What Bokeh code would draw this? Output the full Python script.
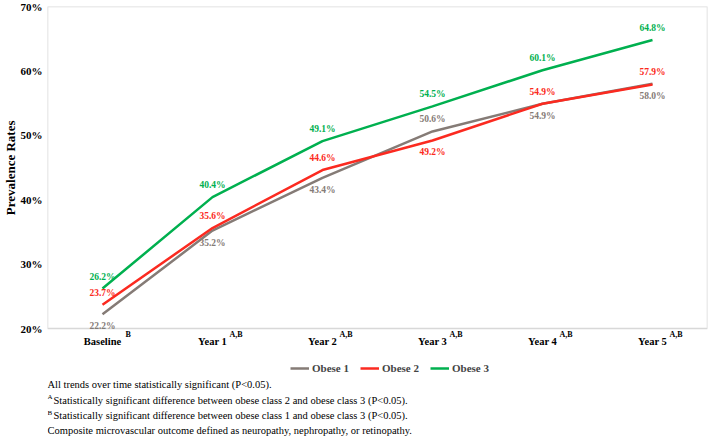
from bokeh.plotting import figure
from bokeh.models import (FactorRange, Range1d, Label, Legend, LegendItem, FixedTicker,
                          PrintfTickFormatter, BoxAnnotation, Title)
from bokeh.core.properties import value
from bokeh.embed import file_html
from bokeh.resources import INLINE

categories = ["Baseline", "Year 1", "Year 2", "Year 3", "Year 4", "Year 5"]
superscripts = ["B", "A,B", "A,B", "A,B", "A,B", "A,B"]
series_names = ["Obese 1", "Obese 2", "Obese 3"]
obese1 = [22.2, 35.2, 43.4, 50.6, 54.9, 58.0]
obese2 = [23.7, 35.6, 44.6, 49.2, 54.9, 57.9]
obese3 = [26.2, 40.4, 49.1, 54.5, 60.1, 64.8]
obese1_side = ["below", "below", "below", "above", "below", "below"]
obese2_side = ["above", "above", "above", "below", "above", "above"]
obese3_side = ["above", "above", "above", "above", "above", "above"]
y_ticks = [20, 30, 40, 50, 60, 70]
y_min, y_max = 20, 70
footnote_main = [
    "All trends over time statistically significant (P<0.05).",
    "Statistically significant difference between obese class 2 and obese class 3 (P<0.05).",
    "Statistically significant difference between obese class 1 and obese class 3 (P<0.05).",
    "Composite microvascular outcome defined as neuropathy, nephropathy, or retinopathy.",
]
footnote_marks = ["", "A", "B", ""]

colors = ["#857b76", "#fb2a20", "#00b04f"]
FONT = "Liberation Serif"

# layout (pixels in the figure)
W, H = 709, 436
TOP = 6            # top of plotting box
PLOT_BOTTOM = 328  # bottom of plotting box (20%)
LEFT = 45
px_per_unit = (PLOT_BOTTOM - TOP) / (y_max - y_min)
y_start = y_min - (H - PLOT_BOTTOM) / px_per_unit

p = figure(width=W, height=H, x_range=FactorRange(*categories, range_padding=0),
           y_range=Range1d(y_start, y_max), output_backend="svg", toolbar_location=None,
           x_axis_location=None,
           min_border_left=LEFT, min_border_right=2, min_border_top=TOP, min_border_bottom=0)
p.xgrid.visible = False
p.ygrid.visible = False
p.outline_line_color = None
p.background_fill_color = "white"
p.border_fill_color = "white"

# plotting box border
p.add_layout(BoxAnnotation(bottom=y_min, top=y_max, fill_alpha=0, line_color="#7f7f7f",
                           line_width=1.5))

ax = p.yaxis[0]
ax.axis_line_color = None
ax.major_tick_line_color = None
ax.minor_tick_line_color = None
ax.major_tick_out = 0
ax.major_tick_in = 0
ax.minor_tick_out = 0
ax.major_label_text_font = FONT
ax.major_label_text_font_style = "bold"
ax.major_label_text_font_size = "11px"
ax.major_label_text_color = "black"
ax.ticker = FixedTicker(ticks=y_ticks)
ax.formatter = PrintfTickFormatter(format="%d%%")
ax.major_label_standoff = 5

p.add_layout(Title(text="Prevalence Rates", align="right", offset=114, standoff=0,
                   text_font=FONT, text_font_style="bold", text_font_size="13px",
                   text_color="black"), "left")

renderers = []
for vals, col in zip([obese1, obese2, obese3], colors):
    r = p.line(categories, vals, line_color=col, line_width=2.5)
    renderers.append(r)
for vals, sides, col in zip([obese1, obese2, obese3], [obese1_side, obese2_side, obese3_side], colors):
    offs = [-12 if s == "above" else 12 for s in sides]
    p.text(x=categories, y=vals, text=[f"{v:.1f}%" for v in vals], y_offset=offs,
           text_align="center", text_baseline="middle", text_color=col,
           text_font=value(FONT), text_font_style="bold", text_font_size="9.5px")

# category labels and their superscripts under the plotting box
p.text(x=categories, y=[y_min] * len(categories), text=categories, y_offset=13,
       text_align="center", text_baseline="middle", text_color="black",
       text_font=value(FONT), text_font_style="bold", text_font_size="10.5px")
p.text(x=categories, y=[y_min] * len(categories), text=superscripts,
       x_offset=[3 * len(c) - 1 for c in categories], y_offset=6,
       text_align="left", text_baseline="middle", text_color="black",
       text_font=value(FONT), text_font_style="bold", text_font_size="8px")

legend = Legend(items=[LegendItem(label=n, renderers=[r]) for n, r in zip(series_names, renderers)],
                orientation="horizontal", location=(243, 62), glyph_width=19, glyph_height=10,
                label_standoff=3, spacing=11, padding=0, margin=0, border_line_color=None,
                background_fill_alpha=0, label_text_font=FONT, label_text_font_style="bold",
                label_text_font_size="11px", label_height=10)
p.add_layout(legend, "center")

foot_y = [52, 36.5, 21, 6]
for txt, mark, ys in zip(footnote_main, footnote_marks, foot_y):
    xs = 0
    if mark:
        p.add_layout(Label(x=xs, y=ys + 3, x_units="screen", y_units="screen", text=mark,
                           text_font=FONT, text_font_size="7px", text_baseline="middle",
                           text_color="black"))
        xs += 6
    p.add_layout(Label(x=xs, y=ys, x_units="screen", y_units="screen", text=txt,
                       text_font=FONT, text_font_size="10.5px", text_baseline="middle",
                       text_color="black"))

open("out.html", "w").write(file_html(p, INLINE))
